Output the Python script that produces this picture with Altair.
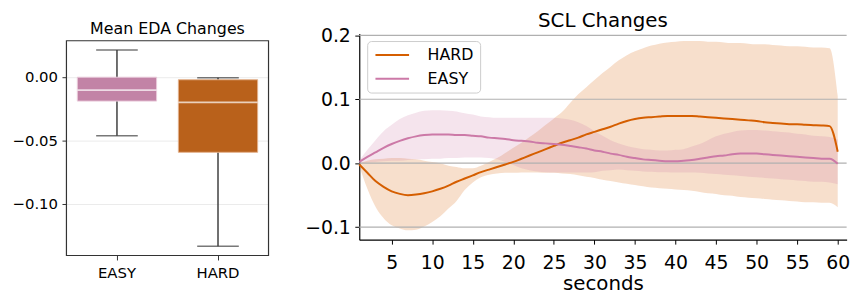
import altair as alt
import pandas as pd

# ---------------- Left panel: Mean EDA Changes (box plot) ----------------
box_groups = ["EASY", "HARD"]
box_whisker_low = [-0.0464, -0.1333]
box_q1 = [-0.0191, -0.0594]
box_median = [-0.0105, -0.0201]
box_q3 = [-0.0003, -0.0023]
box_whisker_high = [0.0211, -0.0008]
box_colors = ["#c283a6", "#b9611b"]
box_edge_colors = ["#e9c9da", "#e2b08c"]
box_yticks = [0.0, -0.05, -0.10]
box_ylim = [-0.1406, 0.0284]          # y-limits of the framed box-plot axes

# ---------------- Right panel: SCL Changes (mean +/- band) ----------------
seconds = list(range(1, 61))
hard_mean = [-0.002, -0.015, -0.028, -0.037, -0.044, -0.048, -0.050, -0.049, -0.047, -0.044,
             -0.040, -0.035, -0.029, -0.024, -0.019, -0.014, -0.010, -0.006, -0.002, 0.002,
             0.007, 0.012, 0.017, 0.022, 0.027, 0.032, 0.036, 0.040, 0.045, 0.049,
             0.053, 0.057, 0.062, 0.066, 0.069, 0.071, 0.072, 0.073, 0.074, 0.074,
             0.074, 0.074, 0.073, 0.072, 0.071, 0.070, 0.069, 0.068, 0.067, 0.066,
             0.064, 0.063, 0.062, 0.061, 0.061, 0.060, 0.0595, 0.059, 0.058, 0.018]
hard_low = [-0.004, -0.040, -0.068, -0.086, -0.097, -0.102, -0.105, -0.104, -0.099, -0.092,
            -0.083, -0.071, -0.059, -0.042, -0.030, -0.022, -0.018, -0.016, -0.015, -0.015,
            -0.0145, -0.0145, -0.0145, -0.015, -0.015, -0.016, -0.017, -0.019, -0.021, -0.023,
            -0.026, -0.028, -0.030, -0.032, -0.034, -0.036, -0.038, -0.039, -0.040, -0.041,
            -0.042, -0.043, -0.045, -0.047, -0.048, -0.050, -0.051, -0.053, -0.054, -0.055,
            -0.056, -0.057, -0.058, -0.059, -0.060, -0.061, -0.061, -0.062, -0.062, -0.069]
hard_high = [0.000, 0.004, 0.006, 0.007, 0.008, 0.008, 0.007, 0.006, 0.004, 0.002,
             0.000, -0.004, -0.006, -0.008, -0.008, -0.004, 0.002, 0.008, 0.016, 0.024,
             0.032, 0.041, 0.050, 0.060, 0.070, 0.080, 0.094, 0.108, 0.119, 0.130,
             0.141, 0.151, 0.161, 0.169, 0.175, 0.180, 0.184, 0.187, 0.189, 0.190,
             0.191, 0.191, 0.191, 0.190, 0.190, 0.189, 0.188, 0.188, 0.187, 0.186,
             0.186, 0.185, 0.184, 0.183, 0.183, 0.182, 0.181, 0.181, 0.180, 0.105]
easy_mean = [0.002, 0.010, 0.017, 0.024, 0.030, 0.035, 0.039, 0.042, 0.044, 0.045,
             0.045, 0.045, 0.044, 0.044, 0.043, 0.042, 0.040, 0.039, 0.038, 0.036,
             0.035, 0.034, 0.032, 0.031, 0.030, 0.029, 0.027, 0.025, 0.023, 0.020,
             0.018, 0.015, 0.013, 0.010, 0.008, 0.006, 0.005, 0.004, 0.003, 0.003,
             0.004, 0.005, 0.007, 0.009, 0.011, 0.012, 0.014, 0.015, 0.015, 0.015,
             0.014, 0.013, 0.012, 0.011, 0.010, 0.009, 0.008, 0.007, 0.007, -0.001]
easy_low = [0.000, 0.001, 0.002, 0.003, 0.004, 0.004, 0.005, 0.006, 0.006, 0.007,
            0.007, 0.008, 0.008, 0.009, 0.009, 0.009, 0.008, 0.006, 0.002, -0.003,
            -0.008, -0.011, -0.013, -0.014, -0.0145, -0.0145, -0.0145, -0.0145, -0.0145, -0.014,
            -0.012, -0.011, -0.010, -0.011, -0.012, -0.013, -0.0135, -0.014, -0.014, -0.0145,
            -0.0145, -0.0145, -0.015, -0.016, -0.017, -0.018, -0.019, -0.020, -0.021, -0.022,
            -0.023, -0.024, -0.025, -0.026, -0.027, -0.028, -0.029, -0.029, -0.030, -0.033]
easy_high = [0.004, 0.021, 0.036, 0.050, 0.060, 0.069, 0.075, 0.079, 0.082, 0.083,
             0.083, 0.082, 0.081, 0.078, 0.076, 0.073, 0.072, 0.071, 0.071, 0.071,
             0.071, 0.071, 0.071, 0.071, 0.071, 0.070, 0.068, 0.064, 0.058, 0.050,
             0.043, 0.036, 0.031, 0.027, 0.024, 0.022, 0.021, 0.020, 0.020, 0.021,
             0.022, 0.026, 0.030, 0.036, 0.042, 0.046, 0.049, 0.051, 0.052, 0.052,
             0.051, 0.050, 0.049, 0.048, 0.046, 0.045, 0.043, 0.042, 0.041, 0.037]
line_groups = ["\u00a0HARD", "EASY"]
line_colors = ["#d55e00", "#cc79a7"]
scl_yticks = [-0.1, 0.0, 0.1, 0.2]
scl_xticks = list(range(5, 61, 5))

FONT = "DejaVu Sans"
MINUS = "\u2212"

# ---------- left chart ----------
box_df = pd.DataFrame({
    "group": box_groups, "lo": box_whisker_low, "q1": box_q1, "med": box_median,
    "q3": box_q3, "hi": box_whisker_high,
})
frame_df = pd.DataFrame({"ymin": [box_ylim[0]], "ymax": [box_ylim[1]]})
ly_scale = alt.Scale(domain=[box_ylim[0], 0.0340], nice=False, zero=False)
lx = alt.X("group:N", scale=alt.Scale(domain=box_groups, paddingInner=0, paddingOuter=0),
           axis=alt.Axis(title=None, labelAngle=0, labelFont=FONT, labelFontSize=15,
                         labelColor="black", tickColor="#333333", tickSize=4.5,
                         labelPadding=5.5, domain=False))
ly_axis = alt.Axis(title=None, values=box_yticks,
                   labelExpr=f"(datum.value < 0 ? '{MINUS}' : '') + format(abs(datum.value), '.2f')",
                   labelFont=FONT, labelFontSize=15, labelColor="black", tickColor="#333333",
                   tickSize=4.5, labelPadding=4.5, domain=False, grid=True, gridColor="#ebebeb",
                   gridWidth=1)
lbase = alt.Chart(box_df)
frame = alt.Chart(frame_df).mark_rect(filled=False, stroke="#333333", strokeWidth=1.2).encode(
    x=alt.value(0), x2=alt.value(204),
    y=alt.Y("ymin:Q", scale=ly_scale, axis=ly_axis), y2="ymax:Q")
whisk = lbase.mark_rule(color="#3f3f3f", strokeWidth=1.5).encode(
    x=lx, y=alt.Y("lo:Q", scale=ly_scale, axis=ly_axis), y2="hi:Q")
cap_lo = lbase.mark_tick(color="#3f3f3f", size=42, thickness=1.5).encode(
    x=lx, y=alt.Y("lo:Q", scale=ly_scale, axis=ly_axis))
cap_hi = lbase.mark_tick(color="#3f3f3f", size=42, thickness=1.5).encode(
    x=lx, y=alt.Y("hi:Q", scale=ly_scale, axis=ly_axis))
boxes = lbase.mark_bar(size=80, strokeWidth=1).encode(
    x=lx, y=alt.Y("q1:Q", scale=ly_scale, axis=ly_axis), y2="q3:Q",
    color=alt.Color("group:N", scale=alt.Scale(domain=box_groups, range=box_colors), legend=None),
    stroke=alt.Stroke("group:N", scale=alt.Scale(domain=box_groups, range=box_edge_colors), legend=None),
    fillOpacity=alt.value(1))
med = lbase.mark_tick(color="white", size=80, thickness=1.8).encode(
    x=lx, y=alt.Y("med:Q", scale=ly_scale, axis=ly_axis))
left = alt.layer(whisk, cap_lo, cap_hi, boxes, med, frame).properties(
    width=204, height=224,
    title=alt.TitleParams("Mean EDA Changes", font=FONT, fontSize=16, fontWeight="normal",
                          color="black", offset=-3.5),
    view=alt.ViewBackground(stroke=None),
)

# ---------- right chart ----------
rows = []
for g, m, lo, hi in ((line_groups[0], hard_mean, hard_low, hard_high),
                     (line_groups[1], easy_mean, easy_low, easy_high)):
    for s, a, b, c in zip(seconds, m, lo, hi):
        rows.append({"second": s, "group": g, "mean": a, "lo": b, "hi": c})
scl_df = pd.DataFrame(rows)
grid_df = pd.DataFrame({"v": scl_yticks})

rx_scale = alt.Scale(domain=[1, 61.1], nice=False, zero=False)
ry_scale = alt.Scale(domain=[-0.1196, 0.2027], nice=False, zero=False)
rx = alt.X("second:Q", scale=rx_scale,
           axis=alt.Axis(values=scl_xticks, format="d", title="seconds", titleFont=FONT,
                         titleFontSize=20, titleFontWeight="normal", titleColor="black",
                         titlePadding=0.5, labelFont=FONT, labelFontSize=19, labelColor="black",
                         tickColor="black", tickSize=4.5, labelPadding=10, domainColor="black",
                         domainWidth=1.2, grid=False, labelFlush=False))
ry_axis = alt.Axis(values=scl_yticks,
                   labelExpr=f"(datum.value < 0 ? '{MINUS}' : '') + format(abs(datum.value), '.1f')",
                   title=None, labelFont=FONT,
                   labelFontSize=19, labelColor="black", tickColor="black", tickSize=4.5,
                   labelPadding=4.5, domainColor="black", domainWidth=1.2, grid=False)
cscale = alt.Scale(domain=line_groups, range=line_colors)

bands = [
    alt.Chart(scl_df).transform_filter(alt.datum.group == g).mark_area(
        opacity=0.2, interpolate="monotone", color=col).encode(
        x=rx, y=alt.Y("lo:Q", scale=ry_scale, axis=ry_axis), y2="hi:Q")
    for g, col in zip(line_groups, line_colors)
]
grid = alt.Chart(grid_df).mark_rule(color="#b0b0b0", strokeWidth=1.2).encode(
    y=alt.Y("v:Q", scale=ry_scale, axis=ry_axis))
lines = alt.Chart(scl_df).mark_line(strokeWidth=2, interpolate="monotone").encode(
    x=rx, y=alt.Y("mean:Q", scale=ry_scale, axis=ry_axis),
    color=alt.Color("group:N", scale=cscale, sort=line_groups, legend=alt.Legend(
        title=None, orient="none", legendX=8, legendY=7.5, fillColor="rgba(255,255,255,0.8)",
        strokeColor="#cccccc", cornerRadius=4, padding=6, symbolType="M-1,0H5",
        symbolSize=128, symbolStrokeWidth=2, labelFont=FONT, labelFontSize=16,
        labelColor="black", labelOffset=39, rowPadding=8)),
    detail="group:N")
right = alt.layer(*bands, grid, lines).properties(
    width=492, height=208,
    title=alt.TitleParams("SCL Changes", font=FONT, fontSize=20, fontWeight="normal",
                          color="black", offset=-4.2),
    view=alt.ViewBackground(stroke=None),
)

chart = alt.hconcat(left, right, spacing=34.6).resolve_scale(
    color="independent", stroke="independent"
).resolve_legend(color="independent", stroke="independent").properties(
    padding={"left": 4, "top": 0.5, "right": 0, "bottom": 0},
    background="white",
).configure(font=FONT)

chart.save("out.html", embed_options={"renderer": "svg", "actions": False})
